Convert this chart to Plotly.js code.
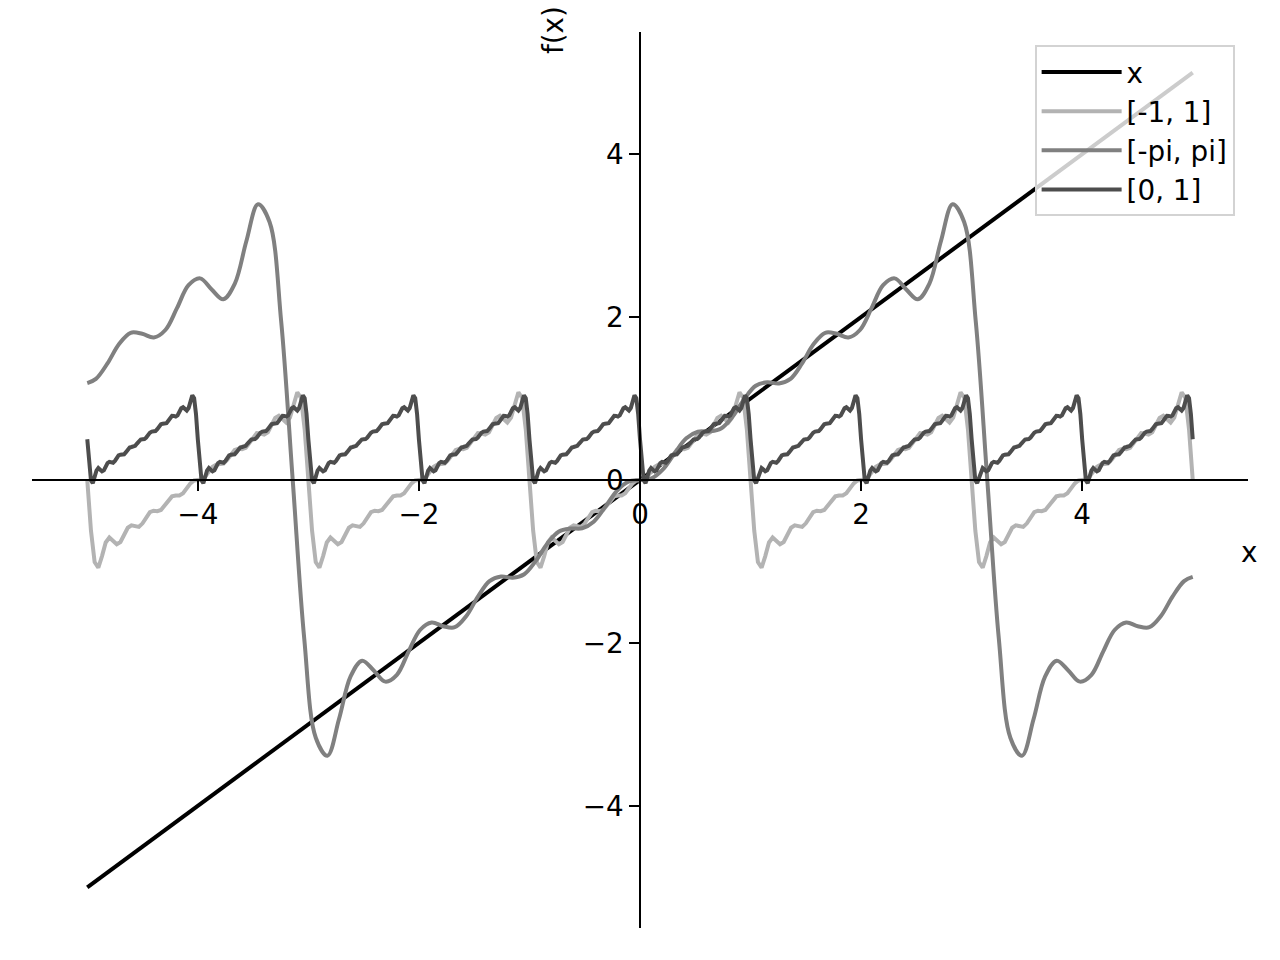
<!DOCTYPE html>
<html><head><meta charset="utf-8">
<script src="https://cdn.plot.ly/plotly-3.0.1.min.js"></script>
<style>html,body{margin:0;padding:0;background:#fff;} #chart{width:1280px;height:960px;}</style>
</head><body><div id="chart"></div>
<script>
// Series names (legend)
const seriesNames = ['x', '[-1, 1]', '[-pi, pi]', '[0, 1]'];
// Axis ticks
const tickVals = [-4, -2, 0, 2, 4];
const tickText = ['\u22124', '\u22122', '0', '2', '4'];

// f(x) = x
const lineX = [-5, 5];
const lineY = [-5, 5];

// Fourier approximation on [-1, 1], sampled every 1/30 from x = -5 to x = 5
const yMinus1To1 = [
0,-0.621,-1.008,-1.077,-0.934,-0.767,-0.706,-0.744,-0.788,-0.761,-0.671,-0.586,-0.557,-0.571,-0.575,-0.532,-0.456,-0.395,-0.377,-0.382,-0.368,-0.316,-0.248,-0.201,-0.19,-0.189,-0.163,-0.105,-0.042,-0.006,0,0.006,0.042,0.105,0.163,0.189,0.19,0.201,0.248,0.316,0.368,0.382,0.377,0.395,0.456,0.532,0.575,0.571,0.557,0.586,0.671,0.761,0.788,0.744,0.706,0.767,0.934,1.077,1.008,0.621,
0,-0.621,-1.008,-1.077,-0.934,-0.767,-0.706,-0.744,-0.788,-0.761,-0.671,-0.586,-0.557,-0.571,-0.575,-0.532,-0.456,-0.395,-0.377,-0.382,-0.368,-0.316,-0.248,-0.201,-0.19,-0.189,-0.163,-0.105,-0.042,-0.006,0,0.006,0.042,0.105,0.163,0.189,0.19,0.201,0.248,0.316,0.368,0.382,0.377,0.395,0.456,0.532,0.575,0.571,0.557,0.586,0.671,0.761,0.788,0.744,0.706,0.767,0.934,1.077,1.008,0.621,
0,-0.621,-1.008,-1.077,-0.934,-0.767,-0.706,-0.744,-0.788,-0.761,-0.671,-0.586,-0.557,-0.571,-0.575,-0.532,-0.456,-0.395,-0.377,-0.382,-0.368,-0.316,-0.248,-0.201,-0.19,-0.189,-0.163,-0.105,-0.042,-0.006,0,0.006,0.042,0.105,0.163,0.189,0.19,0.201,0.248,0.316,0.368,0.382,0.377,0.395,0.456,0.532,0.575,0.571,0.557,0.586,0.671,0.761,0.788,0.744,0.706,0.767,0.934,1.077,1.008,0.621,
0,-0.621,-1.008,-1.077,-0.934,-0.767,-0.706,-0.744,-0.788,-0.761,-0.671,-0.586,-0.557,-0.571,-0.575,-0.532,-0.456,-0.395,-0.377,-0.382,-0.368,-0.316,-0.248,-0.201,-0.19,-0.189,-0.163,-0.105,-0.042,-0.006,0,0.006,0.042,0.105,0.163,0.189,0.19,0.201,0.248,0.316,0.368,0.382,0.377,0.395,0.456,0.532,0.575,0.571,0.557,0.586,0.671,0.761,0.788,0.744,0.706,0.767,0.934,1.077,1.008,0.621,
0,-0.621,-1.008,-1.077,-0.934,-0.767,-0.706,-0.744,-0.788,-0.761,-0.671,-0.586,-0.557,-0.571,-0.575,-0.532,-0.456,-0.395,-0.377,-0.382,-0.368,-0.316,-0.248,-0.201,-0.19,-0.189,-0.163,-0.105,-0.042,-0.006,0,0.006,0.042,0.105,0.163,0.189,0.19,0.201,0.248,0.316,0.368,0.382,0.377,0.395,0.456,0.532,0.575,0.571,0.557,0.586,0.671,0.761,0.788,0.744,0.706,0.767,0.934,1.077,1.008,0.621,
0
];

// Fourier approximation on [0, 1], sampled every 1/60 from x = -5 to x = 5
const y0To1 = [
0.5,0.189,-0.004,-0.039,0.033,0.116,0.147,0.128,0.106,0.119,0.164,0.207,0.222,0.214,0.212,0.234,0.272,0.302,0.311,0.309,0.316,0.342,0.376,0.399,0.405,0.406,0.419,0.447,0.479,0.497,0.5,0.503,0.521,0.553,0.581,0.594,0.595,0.601,0.624,0.658,0.684,0.691,0.689,0.698,0.728,0.766,0.788,0.786,0.778,0.793,0.836,0.881,0.894,0.872,0.853,0.884,0.967,1.039,1.004,0.811,
0.5,0.189,-0.004,-0.039,0.033,0.116,0.147,0.128,0.106,0.119,0.164,0.207,0.222,0.214,0.212,0.234,0.272,0.302,0.311,0.309,0.316,0.342,0.376,0.399,0.405,0.406,0.419,0.447,0.479,0.497,0.5,0.503,0.521,0.553,0.581,0.594,0.595,0.601,0.624,0.658,0.684,0.691,0.689,0.698,0.728,0.766,0.788,0.786,0.778,0.793,0.836,0.881,0.894,0.872,0.853,0.884,0.967,1.039,1.004,0.811,
0.5,0.189,-0.004,-0.039,0.033,0.116,0.147,0.128,0.106,0.119,0.164,0.207,0.222,0.214,0.212,0.234,0.272,0.302,0.311,0.309,0.316,0.342,0.376,0.399,0.405,0.406,0.419,0.447,0.479,0.497,0.5,0.503,0.521,0.553,0.581,0.594,0.595,0.601,0.624,0.658,0.684,0.691,0.689,0.698,0.728,0.766,0.788,0.786,0.778,0.793,0.836,0.881,0.894,0.872,0.853,0.884,0.967,1.039,1.004,0.811,
0.5,0.189,-0.004,-0.039,0.033,0.116,0.147,0.128,0.106,0.119,0.164,0.207,0.222,0.214,0.212,0.234,0.272,0.302,0.311,0.309,0.316,0.342,0.376,0.399,0.405,0.406,0.419,0.447,0.479,0.497,0.5,0.503,0.521,0.553,0.581,0.594,0.595,0.601,0.624,0.658,0.684,0.691,0.689,0.698,0.728,0.766,0.788,0.786,0.778,0.793,0.836,0.881,0.894,0.872,0.853,0.884,0.967,1.039,1.004,0.811,
0.5,0.189,-0.004,-0.039,0.033,0.116,0.147,0.128,0.106,0.119,0.164,0.207,0.222,0.214,0.212,0.234,0.272,0.302,0.311,0.309,0.316,0.342,0.376,0.399,0.405,0.406,0.419,0.447,0.479,0.497,0.5,0.503,0.521,0.553,0.581,0.594,0.595,0.601,0.624,0.658,0.684,0.691,0.689,0.698,0.728,0.766,0.788,0.786,0.778,0.793,0.836,0.881,0.894,0.872,0.853,0.884,0.967,1.039,1.004,0.811,
0.5,0.189,-0.004,-0.039,0.033,0.116,0.147,0.128,0.106,0.119,0.164,0.207,0.222,0.214,0.212,0.234,0.272,0.302,0.311,0.309,0.316,0.342,0.376,0.399,0.405,0.406,0.419,0.447,0.479,0.497,0.5,0.503,0.521,0.553,0.581,0.594,0.595,0.601,0.624,0.658,0.684,0.691,0.689,0.698,0.728,0.766,0.788,0.786,0.778,0.793,0.836,0.881,0.894,0.872,0.853,0.884,0.967,1.039,1.004,0.811,
0.5,0.189,-0.004,-0.039,0.033,0.116,0.147,0.128,0.106,0.119,0.164,0.207,0.222,0.214,0.212,0.234,0.272,0.302,0.311,0.309,0.316,0.342,0.376,0.399,0.405,0.406,0.419,0.447,0.479,0.497,0.5,0.503,0.521,0.553,0.581,0.594,0.595,0.601,0.624,0.658,0.684,0.691,0.689,0.698,0.728,0.766,0.788,0.786,0.778,0.793,0.836,0.881,0.894,0.872,0.853,0.884,0.967,1.039,1.004,0.811,
0.5,0.189,-0.004,-0.039,0.033,0.116,0.147,0.128,0.106,0.119,0.164,0.207,0.222,0.214,0.212,0.234,0.272,0.302,0.311,0.309,0.316,0.342,0.376,0.399,0.405,0.406,0.419,0.447,0.479,0.497,0.5,0.503,0.521,0.553,0.581,0.594,0.595,0.601,0.624,0.658,0.684,0.691,0.689,0.698,0.728,0.766,0.788,0.786,0.778,0.793,0.836,0.881,0.894,0.872,0.853,0.884,0.967,1.039,1.004,0.811,
0.5,0.189,-0.004,-0.039,0.033,0.116,0.147,0.128,0.106,0.119,0.164,0.207,0.222,0.214,0.212,0.234,0.272,0.302,0.311,0.309,0.316,0.342,0.376,0.399,0.405,0.406,0.419,0.447,0.479,0.497,0.5,0.503,0.521,0.553,0.581,0.594,0.595,0.601,0.624,0.658,0.684,0.691,0.689,0.698,0.728,0.766,0.788,0.786,0.778,0.793,0.836,0.881,0.894,0.872,0.853,0.884,0.967,1.039,1.004,0.811,
0.5,0.189,-0.004,-0.039,0.033,0.116,0.147,0.128,0.106,0.119,0.164,0.207,0.222,0.214,0.212,0.234,0.272,0.302,0.311,0.309,0.316,0.342,0.376,0.399,0.405,0.406,0.419,0.447,0.479,0.497,0.5,0.503,0.521,0.553,0.581,0.594,0.595,0.601,0.624,0.658,0.684,0.691,0.689,0.698,0.728,0.766,0.788,0.786,0.778,0.793,0.836,0.881,0.894,0.872,0.853,0.884,0.967,1.039,1.004,0.811,
0.5
];

// Fourier approximation on [-pi, pi]
const xPi = [-5,-4.9218,-4.8171,-4.7124,-4.6077,-4.5030,-4.3982,-4.2935,-4.1888,-4.0841,-3.9794,-3.8746,-3.7699,-3.6652,-3.5605,-3.4558,-3.3510,-3.2463,-3.1416,-3.0369,-2.9322,-2.8274,-2.7227,-2.6180,-2.5133,-2.4086,-2.3038,-2.1991,-2.0944,-1.9897,-1.8850,-1.7802,-1.6755,-1.5708,-1.4661,-1.3614,-1.2566,-1.1519,-1.0472,-0.9425,-0.8378,-0.7330,-0.6283,-0.5236,-0.4189,-0.3142,-0.2094,-0.1047,0,0.1047,0.2094,0.3142,0.4189,0.5236,0.6283,0.7330,0.8378,0.9425,1.0472,1.1519,1.2566,1.3614,1.4661,1.5708,1.6755,1.7802,1.8850,1.9897,2.0944,2.1991,2.3038,2.4086,2.5133,2.6180,2.7227,2.8274,2.9322,3.0369,3.1416,3.2463,3.3510,3.4558,3.5605,3.6652,3.7699,3.8746,3.9794,4.0841,4.1888,4.2935,4.3982,4.5030,4.6077,4.7124,4.8171,4.9218,5];
const yPi = [1.19,1.2416,1.4318,1.6698,1.8076,1.7952,1.7492,1.8414,2.1094,2.3912,2.4752,2.3382,2.2186,2.4110,2.9338,3.3846,3.1668,1.9522,0,-1.9522,-3.1668,-3.3846,-2.9338,-2.4110,-2.2186,-2.3382,-2.4752,-2.3912,-2.1094,-1.8414,-1.7492,-1.7952,-1.8076,-1.6698,-1.4318,-1.2416,-1.1846,-1.2002,-1.1568,-0.9932,-0.7784,-0.6322,-0.5960,-0.5922,-0.5116,-0.3300,-0.1324,-0.0198,0,0.0198,0.1324,0.3300,0.5116,0.5922,0.5960,0.6322,0.7784,0.9932,1.1568,1.2002,1.1846,1.2416,1.4318,1.6698,1.8076,1.7952,1.7492,1.8414,2.1094,2.3912,2.4752,2.3382,2.2186,2.4110,2.9338,3.3846,3.1668,1.9522,0,-1.9522,-3.1668,-3.3846,-2.9338,-2.4110,-2.2186,-2.3382,-2.4752,-2.3912,-2.1094,-1.8414,-1.7492,-1.7952,-1.8076,-1.6698,-1.4318,-1.2416,-1.19];

const FONT = 'DejaVu Sans, sans-serif';
const FS = 27.8;
const LW = 4;

const traces = [
  {x: lineX, y: lineY, mode: 'lines', name: seriesNames[0], line: {color: '#000000', width: LW}},
  {x0: -5, dx: 1/30, y: yMinus1To1, mode: 'lines', name: seriesNames[1], line: {color: '#b3b3b3', width: LW}},
  {x: xPi, y: yPi, mode: 'lines', name: seriesNames[2], line: {color: '#808080', width: LW, shape: 'spline'}},
  {x0: -5, dx: 1/60, y: y0To1, mode: 'lines', name: seriesNames[3], line: {color: '#4d4d4d', width: LW}}
];

const axisCommon = {
  range: [-5.5, 5.5], anchor: 'free', position: 0.5,
  showline: true, linecolor: '#000', linewidth: 2.2,
  zeroline: false, showgrid: false,
  ticks: 'outside', ticklen: 9.7, tickwidth: 2.2, tickcolor: '#000',
  tickmode: 'array', tickvals: tickVals, ticktext: tickText,
  tickfont: {family: FONT, size: FS, color: '#000'}
};

const layout = {
  width: 1280, height: 960,
  margin: {l: 32, r: 32, t: 32, b: 32, pad: 0},
  paper_bgcolor: '#fff', plot_bgcolor: '#fff',
  font: {family: FONT, size: FS, color: '#000'},
  xaxis: Object.assign({}, axisCommon),
  yaxis: Object.assign({}, axisCommon),
  showlegend: true,
  legend: {
    x: 0.989, xanchor: 'right', y: 0.985, yanchor: 'top',
    itemwidth: 80, tracegroupgap: 0,
    bgcolor: 'rgba(255,255,255,0.8)', bordercolor: '#d3d3d3', borderwidth: 2,
    font: {family: FONT, size: FS, color: '#000'}
  },
  annotations: [
    {text: 'x', xref: 'paper', yref: 'paper', x: 1.0008, y: 0.4196, xanchor: 'center', yanchor: 'middle', showarrow: false, font: {family: FONT, size: FS, color: '#000'}},
    {text: 'f(x)', xref: 'paper', yref: 'paper', x: 0.4285, y: 1.0022, xanchor: 'center', yanchor: 'middle', textangle: -90, showarrow: false, font: {family: FONT, size: FS, color: '#000'}}
  ]
};

Plotly.newPlot('chart', traces, layout, {displayModeBar: false, staticPlot: true});
</script>
</body></html>
